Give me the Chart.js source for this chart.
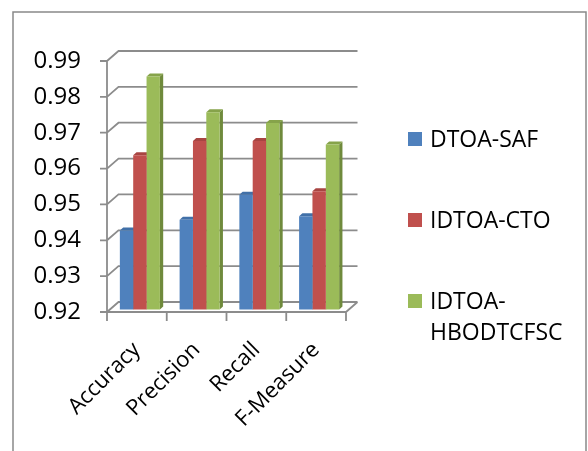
<!DOCTYPE html>
<html>
<head>
<meta charset="utf-8">
<script src="https://cdn.jsdelivr.net/npm/chart.js@4/dist/chart.umd.min.js"></script>
<style>
  html, body { margin: 0; padding: 0; background: #ffffff; }
  #wrap { position: relative; width: 588px; height: 451px; }
</style>
</head>
<body>
<div id="wrap"><canvas id="chart" width="588" height="451"></canvas></div>
<script>
// Metric names along the category axis
const categories = ['Accuracy', 'Precision', 'Recall', 'F-Measure'];

// One array of scores per method
const seriesNames = ['DTOA-SAF', 'IDTOA-CTO', 'IDTOA-HBODTCFSC'];
const dtoaSaf = [0.942, 0.945, 0.952, 0.946];
const idtoaCto = [0.963, 0.967, 0.967, 0.953];
const idtoaHbodtcfsc = [0.985, 0.975, 0.972, 0.966];

// Value axis range and step
const yMin = 0.92;
const yMax = 0.99;
const yStep = 0.01;

const FONT = "'Open Sans', 'Liberation Sans', sans-serif";
const GRID = '#8c8c8c';

// Face colours: front, side, top
const palette = [
  { front: '#4f81bd', side: '#385d8a', top: '#4170a8' },
  { front: '#c0504d', side: '#8c3a38', top: '#a84542' },
  { front: '#9bbb59', side: '#6f8a3c', top: '#86a34a' }
];

// Depth of the back wall and of each bar, plus where the bars sit in depth
const wallDepth = { x: 11.5, y: -10 };
const barShift = { x: 3, y: -2.5 };
const barDepth = { x: 3.3, y: -3 };

const series = [dtoaSaf, idtoaCto, idtoaHbodtcfsc];

// Walls, floor and tick marks of the 3D box
const wallsPlugin = {
  id: 'walls',
  beforeDatasetsDraw(chart) {
    const { ctx, chartArea: a, scales: { x, y } } = chart;
    ctx.save();
    ctx.strokeStyle = GRID;
    ctx.lineWidth = 1.8;
    ctx.lineCap = 'butt';
    const dx = wallDepth.x, dy = wallDepth.y;
    ctx.beginPath();
    for (let v = yMin; v <= yMax + 1e-9; v += yStep) {
      const py = y.getPixelForValue(v);
      ctx.moveTo(a.left - 7, py);
      ctx.lineTo(a.left, py);
      ctx.lineTo(a.left + dx, py + dy);
      ctx.lineTo(a.right + dx, py + dy);
    }
    // front left edge
    ctx.moveTo(a.left, y.getPixelForValue(yMax));
    ctx.lineTo(a.left, a.bottom);
    // floor front and right edges
    ctx.moveTo(a.left - 7, a.bottom);
    ctx.lineTo(a.right, a.bottom);
    ctx.lineTo(a.right + dx, a.bottom + dy);
    // category tick marks
    const n = categories.length;
    for (let i = 0; i <= n; i++) {
      const px = a.left + (a.right - a.left) * i / n;
      ctx.moveTo(px, a.bottom);
      ctx.lineTo(px, a.bottom + 9);
    }
    ctx.stroke();
    ctx.restore();

    // top and side faces of every bar, behind the front faces
    ctx.save();
    ctx.translate(barShift.x, barShift.y);
    chart.data.datasets.forEach((ds, di) => {
      const meta = chart.getDatasetMeta(di);
      const c = palette[di];
      meta.data.forEach(bar => {
        const p = bar.getProps(['x', 'y', 'base', 'width'], true);
        const base = Math.min(p.base, a.bottom);
        const l = p.x - p.width / 2, r = p.x + p.width / 2;
        const bx = barDepth.x, by = barDepth.y;
        ctx.fillStyle = c.side;
        ctx.beginPath();
        ctx.moveTo(r, p.y);
        ctx.lineTo(r + bx, p.y + by);
        ctx.lineTo(r + bx, base + by);
        ctx.lineTo(r, base);
        ctx.closePath();
        ctx.fill();
        ctx.fillStyle = c.top;
        ctx.beginPath();
        ctx.moveTo(l, p.y);
        ctx.lineTo(l + bx, p.y + by);
        ctx.lineTo(r + bx, p.y + by);
        ctx.lineTo(r, p.y);
        ctx.closePath();
        ctx.fill();
      });
    });
    // keep the shift for the front faces drawn by the controller
  },
  afterDatasetsDraw(chart) {
    chart.ctx.restore();
  }
};

// Outer frame and the legend on the right
const framePlugin = {
  id: 'frame',
  afterDraw(chart) {
    const ctx = chart.ctx;
    ctx.save();
    ctx.strokeStyle = '#898989';
    ctx.lineWidth = 1.5;
    ctx.beginPath();
    ctx.moveTo(13, 460);
    ctx.lineTo(13, 12);
    ctx.lineTo(586, 12);
    ctx.lineTo(586, 460);
    ctx.stroke();

    ctx.font = '23px ' + FONT;
    ctx.textBaseline = 'middle';
    ctx.textAlign = 'left';
    const centers = [139, 220, 301];
    const maxW = 145;
    seriesNames.forEach((name, i) => {
      const cy = centers[i];
      ctx.fillStyle = palette[i].front;
      ctx.fillRect(408, cy - 7, 14, 14);
      ctx.fillStyle = '#000000';
      let lines = [name];
      if (ctx.measureText(name).width > maxW) {
        const cut = name.lastIndexOf('-') + 1;
        lines = [name.slice(0, cut), name.slice(cut)];
      }
      lines.forEach((t, k) => ctx.fillText(t, 430, cy + 1 + k * 31));
    });
    ctx.restore();
  }
};

new Chart(document.getElementById('chart'), {
  type: 'bar',
  data: {
    labels: categories,
    datasets: series.map((vals, i) => ({
      label: seriesNames[i],
      data: vals,
      backgroundColor: palette[i].front,
      borderWidth: 0,
      barPercentage: 1,
      categoryPercentage: 0.67
    }))
  },
  options: {
    responsive: false,
    animation: false,
    events: [],
    layout: { padding: { top: 61, left: 0, right: 242, bottom: 0 } },
    plugins: { legend: { display: false }, tooltip: { enabled: false } },
    scales: {
      x: {
        grid: { display: false, drawTicks: false },
        border: { display: false },
        ticks: {
          autoSkip: false,
          minRotation: 45,
          maxRotation: 45,
          padding: 25,
          color: '#000000',
          font: { family: FONT, size: 22 }
        },
        afterFit(s) { s.height = 139; }
      },
      y: {
        min: yMin,
        max: yMax,
        grid: { display: false, drawTicks: false },
        border: { display: false },
        ticks: {
          stepSize: yStep,
          padding: 26,
          color: '#000000',
          font: { family: FONT, size: 24 },
          callback: v => v.toFixed(2)
        },
        afterFit(s) { s.width = 107; }
      }
    }
  },
  plugins: [wallsPlugin, framePlugin]
});
</script>
</body>
</html>
